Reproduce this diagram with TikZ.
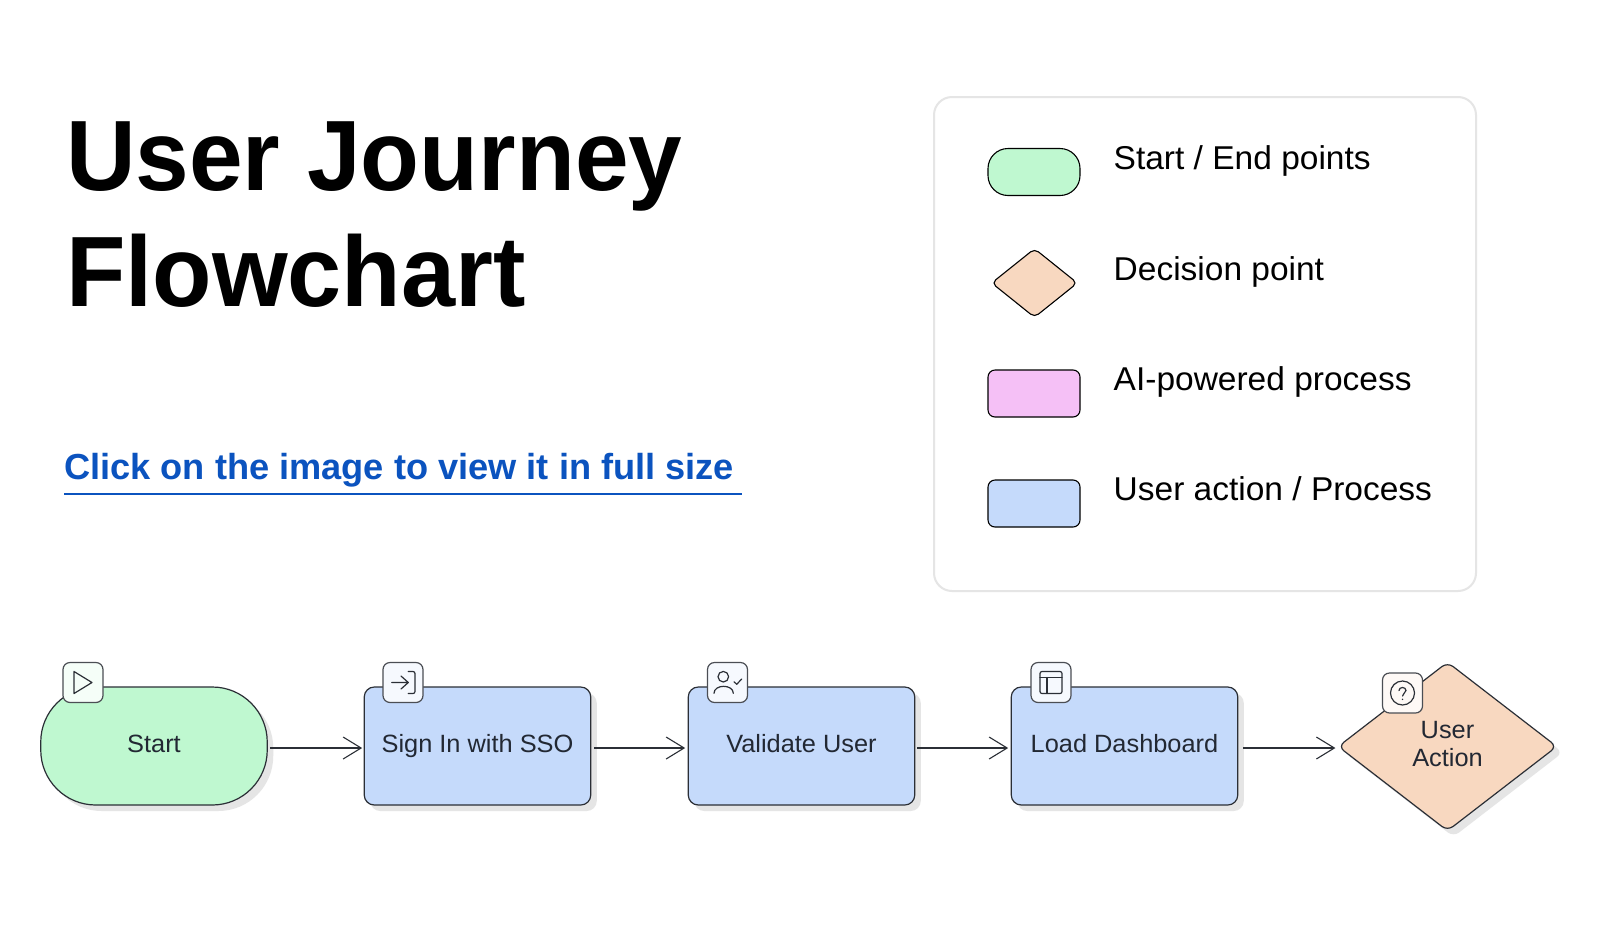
\documentclass[tikz,border=0pt]{standalone}
\usepackage{fontspec}
\setmainfont{Liberation Sans}
\newfontfamily\titlefa[FakeStretch=0.964]{Liberation Sans}
\newfontfamily\titlefb[FakeStretch=0.973]{Liberation Sans}
\newfontfamily\bodyf[FakeStretch=1.015]{Liberation Sans}
\usetikzlibrary{shapes.geometric,shadows,arrows.meta}
\definecolor{green1}{HTML}{BFF8D0}
\definecolor{orange1}{HTML}{F8D8C0}
\definecolor{pink1}{HTML}{F5C0F6}
\definecolor{blue1}{HTML}{C5DAFB}
\definecolor{linkblue}{HTML}{0B53BF}
\definecolor{inkc}{HTML}{222833}
\definecolor{edgec}{HTML}{2B2F36}
\tikzset{
  flowshadow/.style={drop shadow={shadow xshift=6pt,shadow yshift=-6pt,fill=black!10,opacity=1}},
  flowbox/.style={draw=edgec,line width=1.2pt,minimum width=226.5pt,minimum height=118pt,inner sep=0pt,align=center,text=inkc,text height=18pt,text depth=6pt,font=\bodyf\fontsize{25}{28}\selectfont,flowshadow},
  procbox/.style={flowbox,fill=blue1,rounded corners=10pt},
  startbox/.style={flowbox,fill=green1,rounded corners=55pt},
  decbox/.style={flowbox,shape=diamond,fill=orange1,rounded corners=7pt,text height=46pt,text depth=7pt,minimum width=219pt,minimum height=169pt},
  iconbox/.style={draw=edgec!85,line width=1.2pt,minimum size=40pt,inner sep=0pt,rounded corners=7pt,fill=#1},
  iconline/.style={draw=edgec,line width=1.2pt,line cap=round,line join=round},
  legendshape/.style={draw=black,line width=1.1pt,minimum width=92pt,minimum height=47pt,inner sep=0pt},
  legendlabel/.style={anchor=base west,inner sep=0pt,font=\bodyf\fontsize{33}{38}\selectfont},
  flowarrow/.style={draw=edgec,line width=1.1pt,-{Straight Barb[length=18pt,width=22pt,line width=1.1pt]}}
}
\begin{document}
\begin{tikzpicture}[x=1pt,y=-1pt]
\useasboundingbox (0,0) rectangle (1600,935);
\fill[white] (0,0) rectangle (1600,935);
% title
\node[anchor=base west,inner sep=0pt,font=\titlefa\bfseries\fontsize{100}{116}\selectfont] (t1) at (66,190) {User Journey};
\node[anchor=base west,inner sep=0pt,font=\titlefb\bfseries\fontsize{100}{116}\selectfont] (t2) at (66,306) {Flowchart};
\node[anchor=base west,inner sep=0pt,text=linkblue,font=\bfseries\fontsize{36.2}{42}\selectfont] (lnk) at (64,479) {Click on the image to view it in full size};
\coordinate (ul1) at (64,494);
\coordinate (ul2) at (741.5,494);
\draw[linkblue,line width=1.8pt] (ul1) -- (ul2);
% legend
\node[draw=black!10,line width=2pt,fill=white,rounded corners=18pt,minimum width=542pt,minimum height=494pt,inner sep=0pt] (legend) at (1205,344) {};
\node[legendshape,fill=green1,rounded corners=20pt] (lg1) at (1034,172) {};
\node[legendshape,shape=diamond,fill=orange1,rounded corners=5pt,minimum width=86pt,minimum height=69pt] (lg2) at (1034.5,283) {};
\node[legendshape,fill=pink1,rounded corners=7pt] (lg3) at (1034,393.5) {};
\node[legendshape,fill=blue1,rounded corners=7pt] (lg4) at (1034,503.5) {};
\node[legendlabel] (ll1) at (1113.5,169) {Start / End points};
\node[legendlabel] (ll2) at (1113.5,280.5) {Decision point};
\node[legendlabel] (ll3) at (1113.5,390) {AI-powered process};
\node[legendlabel] (ll4) at (1113.5,500) {User action / Process};
% flow
\node[startbox] (start) at (154,746) {Start};
\node[procbox] (signin) at (477.5,746) {Sign In with SSO};
\node[procbox] (validate) at (801.5,746) {Validate User};
\node[procbox] (load) at (1124.5,746) {Load Dashboard};
\node[decbox] (dec) at (1447.5,746.5) {User\\Action};
\draw[flowarrow,shorten <=2pt,shorten >=1.5pt] ([yshift=-2pt]start.east) -- ([yshift=-2pt]signin.west);
\draw[flowarrow,shorten <=3pt,shorten >=2.5pt] ([yshift=-2pt]signin.east) -- ([yshift=-2pt]validate.west);
\draw[flowarrow,shorten <=2pt,shorten >=2.5pt] ([yshift=-2pt]validate.east) -- ([yshift=-2pt]load.west);
\draw[flowarrow,shorten <=5pt,shorten >=2pt] ([yshift=-2pt]load.east) -- ([yshift=-2pt]load.east -| dec.west);
% icons
\node[iconbox=green1!15!white] (ic1) at (83,682.5) {};
\node[iconbox=blue1!15!white] (ic2) at (403,682.5) {};
\node[iconbox=blue1!15!white] (ic3) at (727.5,682.5) {};
\node[iconbox=blue1!15!white] (ic4) at (1051,682.5) {};
\node[iconbox=orange1!15!white] (ic5) at (1402.5,693) {};
\begin{scope}[shift={(ic1.center)}]
\draw[iconline] (-9,-11) -- (9,0) -- (-9,11) -- cycle;
\end{scope}
\begin{scope}[shift={(ic2.center)}]
\draw[iconline] (-11.3,0) -- (5.3,0) (-2,-6.5) -- (5.3,0) -- (-2,6.5);
\draw[iconline,rounded corners=2pt] (5.3,-11) -- (12,-11) -- (12,11) -- (5.3,11);
\end{scope}
\begin{scope}[shift={(ic3.center)}]
\draw[iconline] (-4.2,-5.8) circle[radius=5.3pt];
\draw[iconline] (-13.5,10.8) .. controls (-13.5,1.5) and (5.8,1.5) .. (5.8,10.8);
\draw[iconline] (6.5,-0.8) -- (9.2,1.8) -- (14.2,-3.5);
\end{scope}
\begin{scope}[shift={(ic4.center)}]
\draw[iconline,rounded corners=2pt] (-11,-11) rectangle (11,11);
\draw[iconline] (-11,-5) -- (11,-5) (-4,-5) -- (-4,11);
\end{scope}
\begin{scope}[shift={(ic5.center)}]
\draw[iconline] (0,0) circle[radius=12pt];
\draw[iconline] (-3.5,-2.5) .. controls (-3.5,-6.5) and (3.5,-6.5) .. (3.5,-2.5) .. controls (3.5,0) and (0,0) .. (0,3);
\fill[edgec] (0,6.3) circle[radius=0.8pt];
\end{scope}
\end{tikzpicture}
\end{document}
